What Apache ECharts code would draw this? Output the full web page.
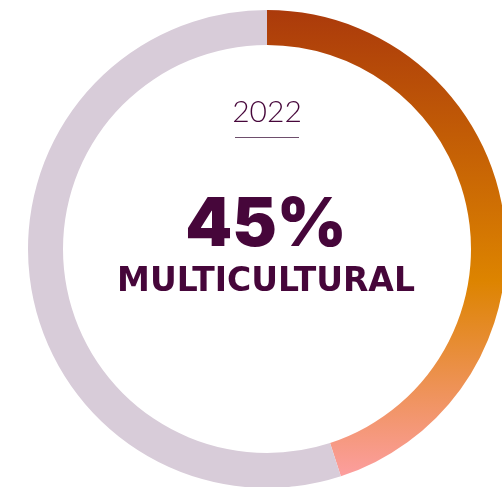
<!DOCTYPE html>
<html>
<head>
<meta charset="utf-8">
<script src="https://cdn.jsdelivr.net/npm/echarts@6/dist/echarts.min.js"></script>
<style>html,body{margin:0;padding:0;background:#fff;}#c{width:502px;height:487px;}</style>
</head>
<body>
<div id="c"></div>
<script>
var categories = ['Multicultural', 'Other'];
var values = [45, 55];
var yearLabel = '2022';
var headline = '45%';
var subLabel = 'MULTICULTURAL';

var chart = echarts.init(document.getElementById('c'), null, {renderer: 'canvas'});
var grad = new echarts.graphic.LinearGradient(0, 10, 0, 477, [
  {offset: 0, color: '#AB3A0B'},
  {offset: 0.58, color: '#DD8400'},
  {offset: 1, color: '#FC9E9F'}
], true);
chart.setOption({
  animation: false,
  series: [{
    type: 'pie',
    center: [267, 249],
    radius: [204, 239],
    startAngle: 90,
    clockwise: true,
    silent: true,
    label: {show: false},
    labelLine: {show: false},
    emphasis: {disabled: true},
    data: [
      {name: categories[0], value: values[0], itemStyle: {color: grad}},
      {name: categories[1], value: values[1], itemStyle: {color: '#D8CCD9'}}
    ]
  }],
  graphic: [
    {type: 'text', silent: true,
     style: {text: yearLabel, x: 267, y: 112, textAlign: 'center', textVerticalAlign: 'middle',
       fontFamily: 'Lato', fontWeight: 300, fontSize: 30, fill: '#46063A'}},
    {type: 'line', silent: true,
     shape: {x1: 235, y1: 137.5, x2: 299, y2: 137.5},
     style: {stroke: '#6E4E6C', lineWidth: 1.2}},
    {type: 'text', silent: true,
     style: {text: headline, x: 266, y: 226, textAlign: 'center', textVerticalAlign: 'middle',
       fontFamily: 'Inter', fontWeight: 900, fontSize: 67, fill: '#46063A'}},
    {type: 'text', silent: true,
     style: {text: subLabel, x: 266, y: 282, textAlign: 'center', textVerticalAlign: 'middle',
       fontFamily: 'DejaVu Sans', fontWeight: 'bold', fontSize: 33, fill: '#46063A'}}
  ]
});
</script>
</body>
</html>
